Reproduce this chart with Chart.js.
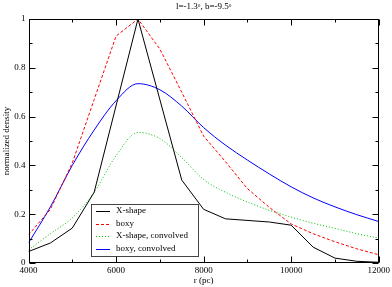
<!DOCTYPE html>
<html><head><meta charset="utf-8">
<script src="https://cdn.jsdelivr.net/npm/chart.js@4/dist/chart.umd.min.js"></script>
<style>html,body{margin:0;padding:0;background:#fff}#c{display:block}</style>
</head><body>
<canvas id="c" width="392" height="287"></canvas>
<script>
// ---- data ----
const titleText = "l=-1.3\u1D52, b=-9.5\u1D52";
const xTickLabels = [4000, 6000, 8000, 10000, 12000];
const yTickLabels = [0, 0.2, 0.4, 0.6, 0.8, 1];

const xShapeR = [4000, 4500, 5000, 5500, 6500, 7500, 8000, 8500, 9500, 10000, 10500, 11000, 11500, 12000];
const xShapeV = [0.047, 0.082, 0.143, 0.29, 1.0, 0.34, 0.22, 0.181, 0.168, 0.155, 0.065, 0.02, 0.007, 0.003];

const gridR = [4000, 4500, 5000, 5500, 6000, 6500, 7000, 7500, 8000, 8500, 9000, 9500, 10000, 10500, 11000, 11500, 12000];
const boxyV = [0.115, 0.22, 0.41, 0.67, 0.93, 1.0, 0.877, 0.70, 0.52, 0.415, 0.305, 0.228, 0.16, 0.12, 0.087, 0.058, 0.034];
const xConvV = [0.054, 0.12, 0.185, 0.29, 0.44, 0.535, 0.51, 0.432, 0.342, 0.29, 0.25, 0.216, 0.188, 0.163, 0.142, 0.12, 0.102];
const boxyConvV = [0.082, 0.23, 0.40, 0.545, 0.665, 0.735, 0.71, 0.643, 0.555, 0.483, 0.422, 0.365, 0.312, 0.267, 0.23, 0.198, 0.17];

const labels = ["X-shape", "boxy", "X-shape, convolved", "boxy, convolved"];

const pts = (xs, ys) => xs.map((x, i) => ({x: x, y: ys[i]}));
const FONT = "'Liberation Serif', 'Times New Roman', serif";

const datasets = [
  {label: labels[0], data: pts(xShapeR, xShapeV), borderColor: '#000000', borderWidth: 1, tension: 0},
  {label: labels[1], data: pts(gridR, boxyV), borderColor: '#ff0000', borderWidth: 1, borderDash: [3, 2], tension: 0},
  {label: labels[2], data: pts(gridR, xConvV), borderColor: '#00c000', borderWidth: 1, borderDash: [1, 2], cubicInterpolationMode: 'monotone'},
  {label: labels[3], data: pts(gridR, boxyConvV), borderColor: '#0000ff', borderWidth: 1, cubicInterpolationMode: 'monotone'}
];
datasets.forEach(d => { d.pointRadius = 0; d.fill = false; });

const framePlugin = {
  id: 'frame',
  afterDatasetsDraw(chart) {
    const ctx = chart.ctx, a = chart.chartArea;
    const xs = chart.scales.x, ys = chart.scales.y;
    ctx.save();
    ctx.strokeStyle = '#000';
    ctx.lineWidth = 1;
    const L = Math.round(a.left) + 0.5, R = Math.round(a.right) - 0.5;
    const T = Math.round(a.top) + 0.5, B = Math.round(a.bottom) - 0.5;
    ctx.strokeRect(L, T, R - L, B - T);
    ctx.beginPath();
    for (let v = 4000; v <= 12000; v += 1000) {
      const len = (v % 2000 === 0) ? 6 : 3;
      const px = Math.round(xs.getPixelForValue(v)) + 0.5;
      ctx.moveTo(px, B); ctx.lineTo(px, B - len);
      ctx.moveTo(px, T); ctx.lineTo(px, T + len);
    }
    for (let k = 0; k <= 10; k++) {
      const v = k / 10;
      const len = (k % 2 === 0) ? 6 : 3;
      const py = Math.round(ys.getPixelForValue(v)) + 0.5;
      ctx.moveTo(L, py); ctx.lineTo(L + len, py);
      ctx.moveTo(R, py); ctx.lineTo(R - len, py);
    }
    ctx.stroke();

    // title
    ctx.fillStyle = '#000';
    ctx.font = '9px ' + FONT;
    ctx.textAlign = 'center';
    ctx.textBaseline = 'middle';
    ctx.fillText(titleText, (a.left + a.right) / 2, 7);

    // legend box
    const bx = 91.5, by = 204.5, bw = 107, bh = 52;
    ctx.fillStyle = '#fff';
    ctx.fillRect(bx, by, bw, bh);
    ctx.strokeStyle = '#444';
    ctx.strokeRect(bx, by, bw, bh);
    const rows = [211, 223.5, 236, 248.5];
    chart.data.datasets.forEach((d, i) => {
      const y = Math.round(rows[i]) + 0.5;
      ctx.save();
      ctx.strokeStyle = d.borderColor;
      ctx.lineWidth = 1;
      ctx.setLineDash(d.borderDash || []);
      ctx.beginPath();
      ctx.moveTo(96, y); ctx.lineTo(110, y);
      ctx.stroke();
      ctx.restore();
      ctx.fillStyle = '#000';
      ctx.textAlign = 'left';
      ctx.fillText(d.label, 116, rows[i]);
    });
    ctx.restore();
  }
};

new Chart(document.getElementById('c'), {
  type: 'line',
  data: {datasets: datasets},
  plugins: [framePlugin],
  options: {
    responsive: false,
    animation: false,
    layout: {padding: {top: 19, right: 13, left: 0, bottom: 0}},
    plugins: {legend: {display: false}, title: {display: false}, tooltip: {enabled: false}},
    scales: {
      x: {
        type: 'linear', min: 4000, max: 12000,
        afterBuildTicks: s => { s.ticks = xTickLabels.map(v => ({value: v})); },
        afterFit: s => { s.height = 24; },
        grid: {display: false, drawTicks: false},
        border: {display: false},
        ticks: {color: '#000', font: {family: FONT, size: 9}, padding: 2, maxRotation: 0, autoSkip: false,
                callback: v => String(v)},
        title: {display: true, text: 'r (pc)', color: '#000', font: {family: FONT, size: 9}, padding: {top: 0, bottom: 1}}
      },
      y: {
        type: 'linear', min: 0, max: 1,
        afterBuildTicks: s => { s.ticks = yTickLabels.map(v => ({value: v})); },
        afterFit: s => { s.width = 28.5; },
        grid: {display: false, drawTicks: false},
        border: {display: false},
        ticks: {color: '#000', font: {family: FONT, size: 9}, padding: 3, autoSkip: false,
                callback: v => String(v)},
        title: {display: true, text: 'normalized density', color: '#000', font: {family: FONT, size: 9}, padding: {top: 1, bottom: 0}}
      }
    }
  }
});
</script>
</body></html>
